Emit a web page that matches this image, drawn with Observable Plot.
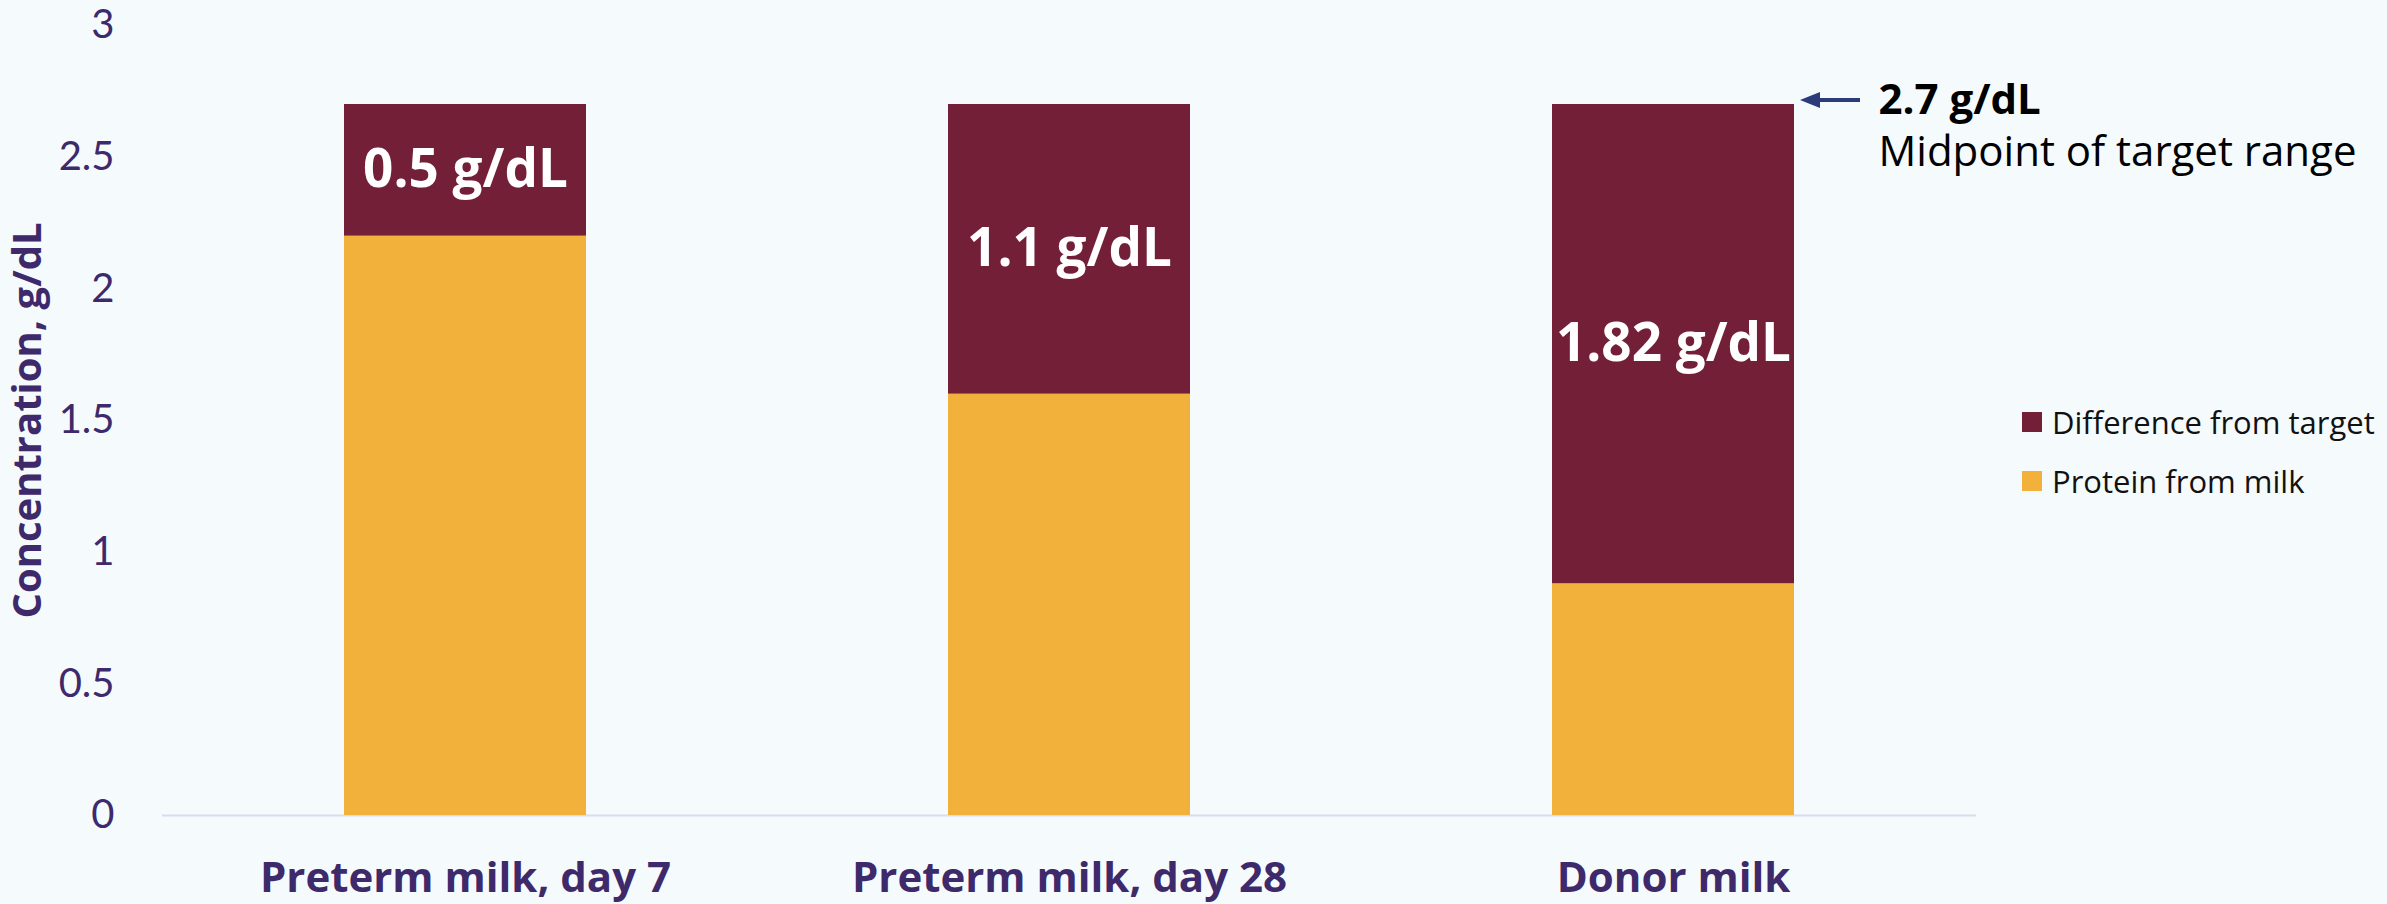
<!DOCTYPE html>
<html>
<head>
<meta charset="utf-8">
<script src="https://cdn.jsdelivr.net/npm/d3@7"></script>
<script src="https://cdn.jsdelivr.net/npm/@observablehq/plot@0.6"></script>
<style>
  html, body { margin: 0; padding: 0; background: #F5FAFD; }
  #wrap { position: relative; width: 2387px; height: 904px; background: #F5FAFD; }
  #legend { position: absolute; left: 2022px; top: 403px; font-family: "Open Sans", sans-serif; font-size: 31px; color: #111; }
  #legend .item { display: flex; align-items: center; height: 38px; margin-bottom: 21px; white-space: nowrap; }
  #legend .sw { width: 20px; height: 20px; margin-right: 10px; flex: none; }
</style>
</head>
<body>
<div id="wrap"></div>
<script>
const categories = ["Preterm milk, day 7", "Preterm milk, day 28", "Donor milk"];
const proteinFromMilk = [2.2, 1.6, 0.88];
const differenceFromTarget = [0.5, 1.1, 1.82];
const differenceLabels = ["0.5 g/dL", "1.1 g/dL", "1.82 g/dL"];
const yTicks = [0, 0.5, 1, 1.5, 2, 2.5, 3];
const targetValue = 2.7;
const targetLabel = "2.7 g/dL";
const targetNote = "Midpoint of target range";
const seriesNames = ["Difference from target", "Protein from milk"];
const seriesColors = ["#721F37", "#F1B13B"];
const yTitle = "Concentration, g/dL";

const textColor = "#3E2A6B";

const rows = categories.map((c, i) => ({
  cat: c,
  protein: proteinFromMilk[i],
  diff: differenceFromTarget[i],
  label: differenceLabels[i]
}));

const plot = Plot.plot({
  width: 2387,
  height: 904,
  marginLeft: 162,
  marginRight: 411,
  marginTop: 25,
  marginBottom: 89,
  style: { background: "#F5FAFD", overflow: "visible" },
  x: { domain: categories, paddingInner: 0.6, paddingOuter: 0.3 },
  y: { domain: [0, 3] },
  marks: [
    Plot.ruleY([0], { stroke: "#D8DCEE", strokeWidth: 2 }),
    Plot.barY(rows, { x: "cat", y1: 0, y2: "protein", fill: seriesColors[1] }),
    Plot.barY(rows, { x: "cat", y1: "protein", y2: d => d.protein + d.diff, fill: seriesColors[0] }),
    Plot.text(rows, {
      x: "cat", y: d => d.protein + d.diff / 2, text: "label",
      fill: "white", fontSize: 53, fontWeight: "bold", fontFamily: "Open Sans"
    }),
    Plot.axisY({
      ticks: yTicks, tickFormat: d => String(d), tickSize: 0, tickPadding: 48,
      fontSize: 40, fontFamily: "Lato", fill: textColor, label: null
    }),
    Plot.axisX({
      tickSize: 0, tickPadding: 47, fontSize: 42, fontWeight: "bold",
      fontFamily: "Open Sans", fill: textColor, label: null
    }),
    Plot.text([yTitle], {
      frameAnchor: "left", textAnchor: "middle", rotate: -90, dx: -134, text: d => d,
      fontSize: 40, fontWeight: "bold", fontFamily: "Open Sans", fill: textColor
    }),
    Plot.text([targetValue], {
      x: () => categories[2], y: d => d, text: () => targetLabel, dx: 205, dy: -4,
      textAnchor: "start", fontSize: 42, fontWeight: "bold", fontFamily: "Open Sans", fill: "#000"
    }),
    Plot.text([targetValue], {
      x: () => categories[2], y: d => d, text: () => targetNote, dx: 205, dy: 48,
      textAnchor: "start", fontSize: 42, fontFamily: "Open Sans", fill: "#000"
    })
  ]
});

document.getElementById("wrap").appendChild(plot);

// target arrow, positioned through the plot's scales
const xs = plot.scale("x");
const ys = plot.scale("y");
const barRight = xs.apply(categories[2]) + xs.bandwidth;
const ty = ys.apply(targetValue) - 4;
const svg = d3.select(plot);
const arrowColor = "#2C3B7A";
svg.append("line")
  .attr("x1", barRight + 20).attr("x2", barRight + 66)
  .attr("y1", ty).attr("y2", ty)
  .attr("stroke", arrowColor).attr("stroke-width", 4);
svg.append("path")
  .attr("d", `M${barRight + 6},${ty} L${barRight + 26},${ty - 8} L${barRight + 26},${ty + 8} Z`)
  .attr("fill", arrowColor);

// legend
const legend = d3.select("#wrap").append("div").attr("id", "legend");
seriesNames.forEach((name, i) => {
  const item = legend.append("div").attr("class", "item");
  item.append("div").attr("class", "sw").style("background", seriesColors[i]);
  item.append("span").text(name);
});
</script>
</body>
</html>
